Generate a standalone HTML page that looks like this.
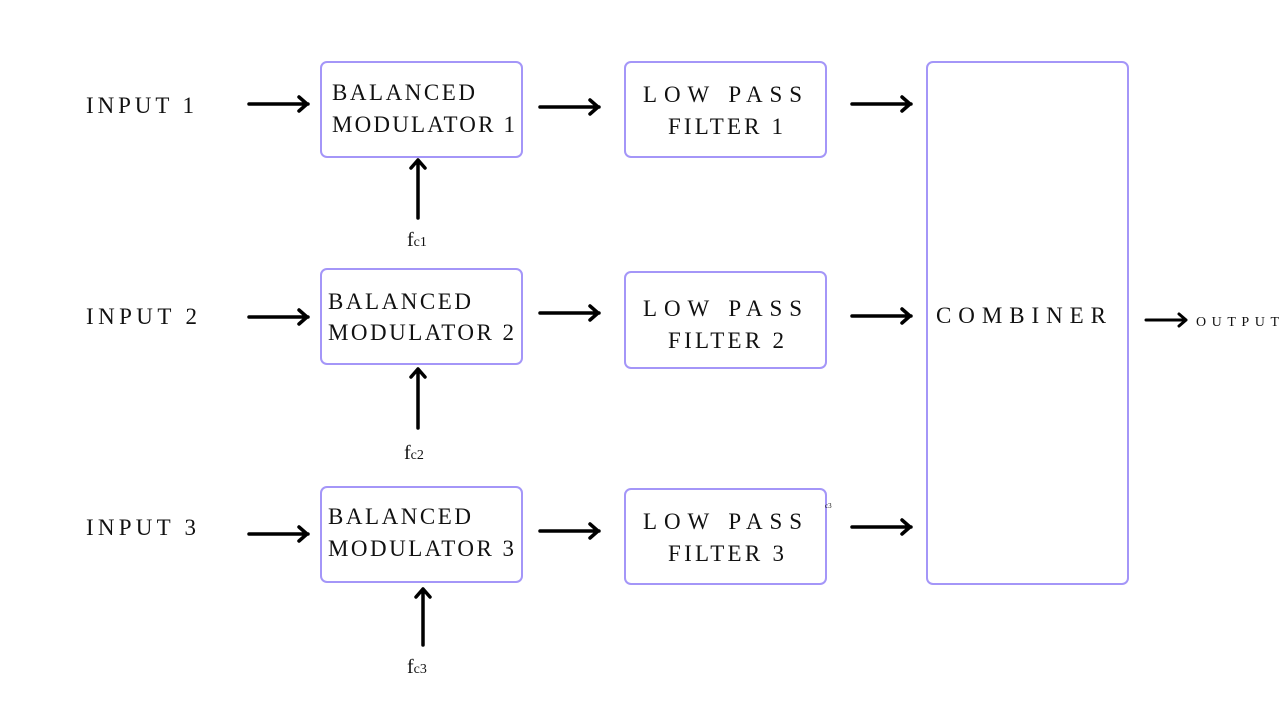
<!DOCTYPE html>
<html><head><meta charset="utf-8"><style>
html,body{margin:0;padding:0;background:#fff;width:1280px;height:720px;overflow:hidden}
svg{display:block}
text{font-family:"Liberation Serif",serif;fill:#111}
.b{fill:none;stroke:#a496f8;stroke-width:2}
.a{stroke:#000;stroke-width:3.5;fill:none;stroke-linecap:round;stroke-linejoin:round}
</style></head><body>
<svg width="1280" height="720" viewBox="0 0 1280 720" xmlns="http://www.w3.org/2000/svg">
<rect class="b" x="321" y="62" width="201" height="95" rx="6"/>
<rect class="b" x="321" y="269" width="201" height="95" rx="6"/>
<rect class="b" x="321" y="487" width="201" height="95" rx="6"/>
<rect class="b" x="625" y="62" width="201" height="95" rx="6"/>
<rect class="b" x="625" y="272" width="201" height="96" rx="6"/>
<rect class="b" x="625" y="489" width="201" height="95" rx="6"/>
<rect class="b" x="927" y="62" width="201" height="522" rx="6"/>

<g font-size="23" lengthAdjust="spacing">
<text x="86" y="113" textLength="108" lengthAdjust="spacing">INPUT 1</text>
<text x="86" y="324" textLength="111" lengthAdjust="spacing">INPUT 2</text>
<text x="86" y="535" textLength="110" lengthAdjust="spacing">INPUT 3</text>
<text x="332" y="100" textLength="143" lengthAdjust="spacing">BALANCED</text>
<text x="332" y="132" textLength="183" lengthAdjust="spacing">MODULATOR 1</text>
<text x="328" y="309" textLength="143" lengthAdjust="spacing">BALANCED</text>
<text x="328" y="340" textLength="186" lengthAdjust="spacing">MODULATOR 2</text>
<text x="328" y="524" textLength="143" lengthAdjust="spacing">BALANCED</text>
<text x="328" y="556" textLength="186" lengthAdjust="spacing">MODULATOR 3</text>
<text x="643" y="102" textLength="159" lengthAdjust="spacing">LOW PASS</text>
<text x="668" y="134" textLength="115" lengthAdjust="spacing">FILTER 1</text>
<text x="643" y="316" textLength="159" lengthAdjust="spacing">LOW PASS</text>
<text x="668" y="348" textLength="116" lengthAdjust="spacing">FILTER 2</text>
<text x="643" y="529" textLength="159" lengthAdjust="spacing">LOW PASS</text>
<text x="668" y="561" textLength="116" lengthAdjust="spacing">FILTER 3</text>
<text x="936" y="323" textLength="170" lengthAdjust="spacing">COMBINER</text>
</g>
<text x="1196" y="326" font-size="14" textLength="83" lengthAdjust="spacing">OUTPUT</text>
<text x="407" y="246" font-size="20">f<tspan font-size="14">c1</tspan></text>
<text x="404" y="459" font-size="20">f<tspan font-size="14">c2</tspan></text>
<text x="407" y="673" font-size="20">f<tspan font-size="14">c3</tspan></text>
<text x="825" y="508" font-size="7">c3</text>

<g class="a">
<path d="M249 104H308M299 97l8 7-8 7"/>
<path d="M249 317H308M299 310l8 7-8 7"/>
<path d="M249 534H308M299 527l8 7-8 7"/>
<path d="M540 107H599M590 100l8 7-8 7"/>
<path d="M540 313H599M590 306l8 7-8 7"/>
<path d="M540 531H599M590 524l8 7-8 7"/>
<path d="M852 104H911M902 97l8 7-8 7"/>
<path d="M852 316H911M902 309l8 7-8 7"/>
<path d="M852 527H911M902 520l8 7-8 7"/>
<path d="M418 218V160M411 168l7-8 7 8"/>
<path d="M418 428V369M411 377l7-8 7 8"/>
<path d="M423 645V589M416 597l7-8 7 8"/>
<path d="M1146 320H1186M1179 314l7 6-7 6" stroke-width="3"/>
</g>
</svg>
</body></html>
